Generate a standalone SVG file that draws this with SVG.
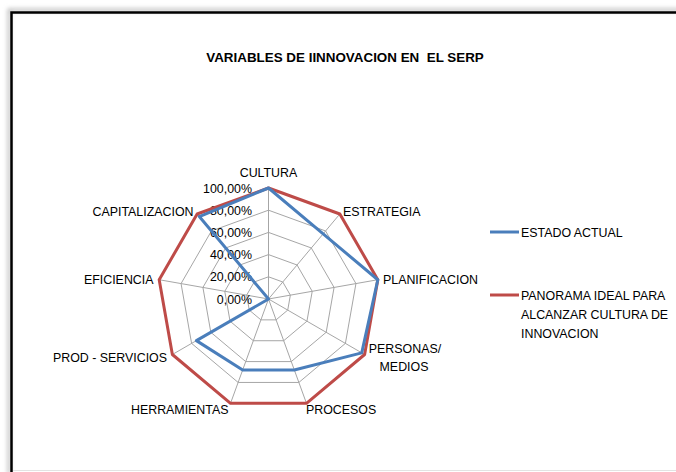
<svg xmlns="http://www.w3.org/2000/svg" width="676" height="472" viewBox="0 0 676 472">
<defs>
<style>
.t{font-family:"Liberation Sans",Arial,sans-serif;font-size:12.4px;fill:#000}
.ttl{font-family:"Liberation Sans",Arial,sans-serif;font-size:13.4px;font-weight:bold;fill:#000;white-space:pre}
.grid{fill:none;stroke:#a6a6a6;stroke-width:1}
.ideal{fill:none;stroke:#be4b48;stroke-width:3;stroke-linejoin:round}
.actual{fill:none;stroke:#4a7ebb;stroke-width:3;stroke-linejoin:round}
</style>
<filter id="sh" x="-5%" y="-5%" width="110%" height="110%"><feGaussianBlur stdDeviation="2"/></filter>
</defs>
<rect width="676" height="472" fill="#fff"/>
<g id="frame">
<path d="M9,474 V10 H680" fill="none" stroke="#bbb" stroke-width="3" filter="url(#sh)"/>
<path d="M11.5,474 V12.5 H680" fill="none" stroke="#000" stroke-width="2.5"/>
<line x1="13" y1="470.5" x2="676" y2="470.5" stroke="#e3e3e3" stroke-width="1"/>
</g>
<g id="title"><text class="ttl" x="345" y="61.5" text-anchor="middle">VARIABLES DE IINNOVACION EN  EL SERP</text></g>
<g id="grid" transform="translate(268.5,299)">
<polygon class="grid" points="0,-22.2 14.27,-17.01 21.86,-3.85 19.23,11.1 7.59,20.86 -7.59,20.86 -19.23,11.1 -21.86,-3.85 -14.27,-17.01"/>
<polygon class="grid" points="0,-44.4 28.54,-34.01 43.73,-7.71 38.45,22.2 15.18,41.72 -15.18,41.72 -38.45,22.2 -43.73,-7.71 -28.54,-34.01"/>
<polygon class="grid" points="0,-66.6 42.81,-51.02 65.59,-11.56 57.68,33.3 22.78,62.58 -22.78,62.58 -57.68,33.3 -65.59,-11.56 -42.81,-51.02"/>
<polygon class="grid" points="0,-88.8 57.08,-68.02 87.45,-15.42 76.9,44.4 30.37,83.45 -30.37,83.45 -76.9,44.4 -87.45,-15.42 -57.08,-68.02"/>
<polygon class="grid" points="0,-111 71.35,-85.03 109.31,-19.27 96.13,55.5 37.96,104.31 -37.96,104.31 -96.13,55.5 -109.31,-19.27 -71.35,-85.03"/>
<path class="grid" d="M0,0 L0,-111 M0,0 L71.35,-85.03 M0,0 L109.31,-19.27 M0,0 L96.13,55.5 M0,0 L37.96,104.31 M0,0 L-37.96,104.31 M0,0 L-96.13,55.5 M0,0 L-109.31,-19.27 M0,0 L-71.35,-85.03"/>
</g>
<g id="scale" class="t" text-anchor="end">
<text x="252" y="192.5">100,00%</text>
<text x="252" y="214.7">80,00%</text>
<text x="252" y="236.9">60,00%</text>
<text x="252" y="259.1">40,00%</text>
<text x="252" y="281.3">20,00%</text>
<text x="252" y="303.5">0,00%</text>
</g>
<g id="series" transform="translate(268.5,299)">
<polygon id="ideal" class="ideal" points="0,-111 71.35,-85.03 109.31,-19.27 96.13,55.5 37.96,104.31 -37.96,104.31 -96.13,55.5 -109.31,-19.27 -71.35,-85.03"/>
<polygon id="actual" class="actual" points="0,-111 54.66,-65.13 109.31,-19.27 93.24,53.84 25.81,70.93 -25.81,70.93 -72.1,41.63 0,0 -69.21,-82.48"/>
</g>
<g id="axis-labels" class="t">
<text x="268.5" y="176.5" text-anchor="middle">CULTURA</text>
<text x="343" y="215.5">ESTRATEGIA</text>
<text x="383" y="283.5">PLANIFICACION</text>
<text x="405" y="352.5" text-anchor="middle">PERSONAS/</text>
<text x="404" y="370.5" text-anchor="middle">MEDIOS</text>
<text x="306" y="413.5">PROCESOS</text>
<text x="228.5" y="413.5" text-anchor="end">HERRAMIENTAS</text>
<text x="167" y="361.5" text-anchor="end">PROD - SERVICIOS</text>
<text x="153.5" y="283.5" text-anchor="end">EFICIENCIA</text>
<text x="193.5" y="215.5" text-anchor="end">CAPITALIZACION</text>
</g>
<g id="legend">
<g id="legend-actual">
<line x1="490" y1="232" x2="519" y2="232" stroke="#4a7ebb" stroke-width="3"/>
<text class="t" x="521" y="236.5">ESTADO ACTUAL</text>
</g>
<g id="legend-ideal">
<line x1="490" y1="295" x2="519" y2="295" stroke="#be4b48" stroke-width="3"/>
<text class="t" x="521" y="299.5">PANORAMA IDEAL PARA</text>
<text class="t" x="521" y="318.5">ALCANZAR CULTURA DE</text>
<text class="t" x="521" y="337.5">INNOVACION</text>
</g>
</g>
</svg>
